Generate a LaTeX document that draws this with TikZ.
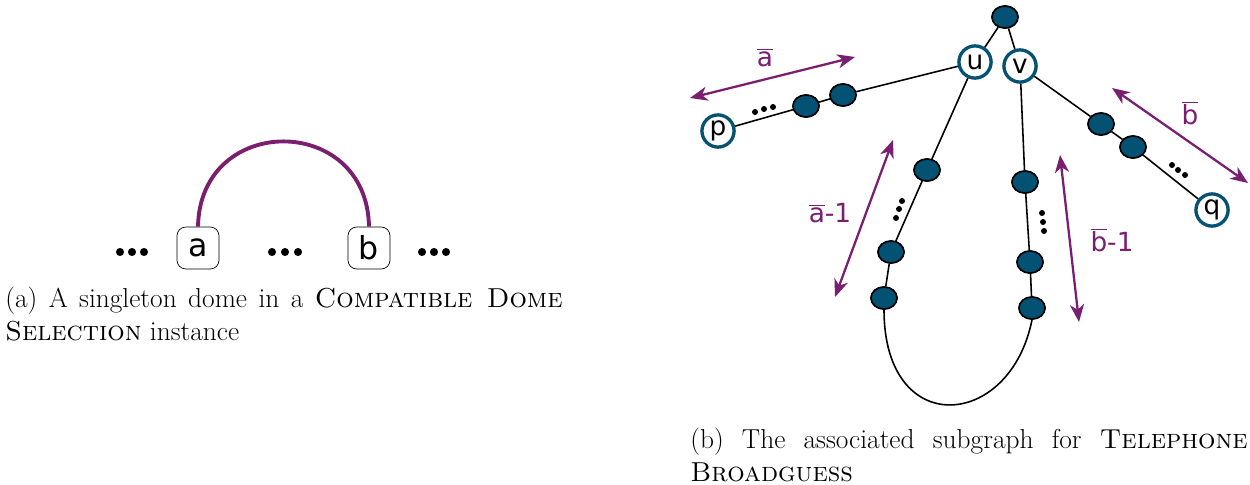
\documentclass[tikz,border=0pt]{standalone}
\usepackage{fontspec}
\usetikzlibrary{arrows.meta,shapes.geometric}
\newfontfamily\labfont{DejaVu Sans}
\definecolor{domePurple}{RGB}{122,30,112}
\definecolor{vertBlue}{RGB}{4,82,115}
\newcommand{\OvBar}[1]{$\overline{\hbox{#1}}$}
\hyphenpenalty=10000

\begin{document}
\begin{tikzpicture}[x=0.02cm,y=-0.02cm,
  slot/.style={draw,rounded corners=5pt,minimum size=0.84cm,inner sep=0pt,font=\labfont\fontsize{18}{18}\selectfont},
  vert/.style={ellipse,draw,line width=0.9pt,fill=vertBlue,minimum width=0.52cm,minimum height=0.44cm,inner sep=0pt},
  lab/.style={circle,draw=vertBlue,line width=1.8pt,fill=white,minimum size=0.64cm,inner sep=0pt,font=\labfont\fontsize{15}{15}\selectfont},
  len/.style={domePurple,line width=1.3pt,{Stealth[length=10pt,width=8pt,inset=3pt]}-{Stealth[length=10pt,width=8pt,inset=3pt]}},
  lentext/.style={text=domePurple,inner sep=0pt,font=\labfont\fontsize{15}{15}\selectfont},
  subcap/.style={anchor=north west,inner sep=0pt,text width=11.15cm,align=justify,font=\fontsize{15.6}{18.8}\selectfont}]
\useasboundingbox (0,0) rectangle (1250,484);

% (a) the dome
\node[slot] (a) at (198,248) {a};
\node[slot] (b) at (369,248) {b};
\draw[domePurple,line width=2.2pt] (a.north) .. controls (200,113) and (367,113) .. (b.north);
\foreach \x in {120,132,144,272,285,298,422,434,446}
  \fill (\x,252) circle (2.3pt);
\node[subcap] (capa) at (5,287) {(a) A singleton dome in a \textsc{Compatible Dome Selection} instance};

% (b) the subgraph
\node[vert] (t) at (1005,17) {};
\node[lab] (u) at (975,62) {u};
\node[lab] (v) at (1020,66) {v};
\node[lab] (p) at (718,131) {p};
\node[lab] (q) at (1212,210) {q};
\node[vert] (l1) at (843,95) {};
\node[vert] (l2) at (806,106) {};
\node[vert] (d1) at (927,170) {};
\node[vert] (d2) at (891,252) {};
\node[vert] (d3) at (884,298) {};
\node[vert] (e1) at (1025,182) {};
\node[vert] (e2) at (1030,262) {};
\node[vert] (e3) at (1032,308) {};
\node[vert] (r1) at (1101,124) {};
\node[vert] (r2) at (1133,147) {};

\draw[line width=0.9pt] (t) -- (u) (t) -- (v)
  (u) -- (l1) -- (l2) -- (p)
  (u) -- (d1) -- (d2) -- (d3)
  (v) -- (e1) -- (e2) -- (e3)
  (v) -- (r1) -- (r2) -- (q);
\draw[line width=0.9pt] (d3.south) .. controls (884,440) and (1010,430) .. (e3.south);
% redraw vertices over the edges
\foreach \n in {t,l1,l2,d1,d2,d3,e1,e2,e3,r1,r2}
  \node[vert] at (\n) {};
\node[lab] at (u) {u};
\node[lab] at (v) {v};
\node[lab] at (p) {p};
\node[lab] at (q) {q};

\foreach \x/\y in {755/112,764/109,773/107,902/201,899/209,896/218,1042/213,1043/222,1044/231,1172/165,1178/170,1185/175}
  \fill (\x,\y) circle (1.7pt);

% lengths
\coordinate (a0) at (690,98);
\coordinate (a1) at (855,57);
\coordinate (b0) at (1112,88);
\coordinate (b1) at (1248,183);
\coordinate (c0) at (893,140);
\coordinate (c1) at (835,297);
\coordinate (f0) at (1060,155);
\coordinate (f1) at (1079,322);
\draw[len] (a0) -- (a1);
\draw[len] (b0) -- (b1);
\draw[len] (c0) -- (c1);
\draw[len] (f0) -- (f1);
\node[lentext] (la) at (765,58) {\OvBar{a}};
\node[lentext] (lb) at (1190,113) {\OvBar{b}};
\node[lentext] (lc) at (830,213) {\OvBar{a}-1};
\node[lentext] (lf) at (1112,240) {\OvBar{b}-1};

\node[subcap] (capb) at (690,428) {(b) The associated subgraph for \textsc{Telephone Broadguess}};
\end{tikzpicture}
\end{document}
